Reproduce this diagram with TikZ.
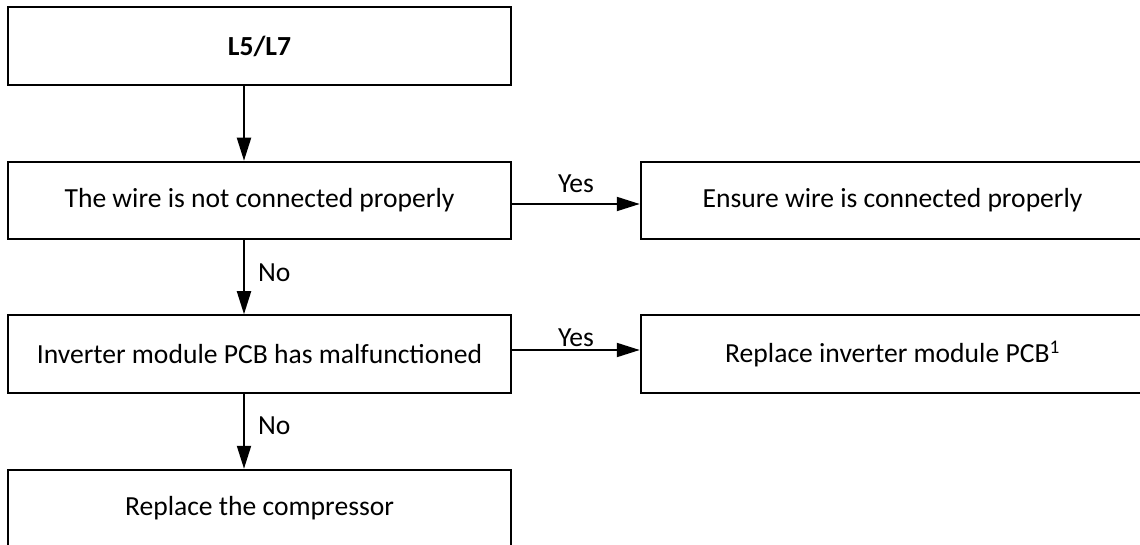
\documentclass[tikz,border=0pt]{standalone}
\usepackage{fontspec}
\setmainfont{Carlito}
\usetikzlibrary{positioning,arrows.meta}

\begin{document}
\begin{tikzpicture}[
  x=1pt, y=-1pt,
  box/.style={draw, line width=2pt, minimum width=503.5pt, minimum height=77.5pt,
              font=\fontsize{27.6}{33}\selectfont, inner sep=0pt},
  lbl/.style={font=\fontsize{27.6}{33}\selectfont, inner sep=0pt},
  arr/.style={-{Triangle[length=23pt, width=14pt]}, line width=2pt}
]
  \useasboundingbox (0,0) rectangle (1140,545);

  % left column
  \node[box, font=\fontsize{27.6}{33}\selectfont\bfseries] (fault) at (259.5,46) {L5/L7};
  \node[box] (wire) at (259.5,200.5) {The wire is not connected properly};
  \node[box] (pcb) at (259.5,354) {Inverter module PCB has malfunctioned};
  \node[box] (comp) at (259.5,508.5) {Replace the compressor};

  % right column
  \node[box] (ensure) at (892.5,200.5) {Ensure wire is connected properly};
  \node[box] (replace) at (892.5,354) {Replace inverter module PCB\textsuperscript{1}};

  \draw[arr] ([xshift=-15.5pt]fault.south) -- ([xshift=-15.5pt]wire.north);
  \draw[arr] ([xshift=-15.5pt]wire.south) -- ([xshift=-15.5pt]pcb.north)
    node[lbl, midway, right=13pt, yshift=5pt] (no1) {No};
  \draw[arr] ([xshift=-15.5pt]pcb.south) -- ([xshift=-15.5pt]comp.north)
    node[lbl, midway, right=13pt, yshift=6pt] (no2) {No};

  \draw[arr] ([yshift=-3.5pt]wire.east) -- ([yshift=-3.5pt]ensure.west)
    node[lbl, midway, above=10pt] (yes1) {Yes};
  \draw[arr] ([yshift=4pt]pcb.east) -- ([yshift=4pt]replace.west)
    node[lbl, midway, above=2pt] (yes2) {Yes};
\end{tikzpicture}
\end{document}
